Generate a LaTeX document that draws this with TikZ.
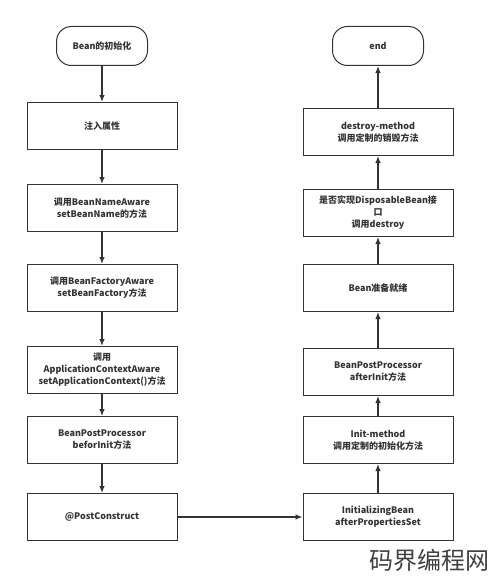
\documentclass[tikz,border=0pt]{standalone}
\usepackage{fontspec}
\setmainfont{Noto Sans CJK SC}
\usepackage{tikz}
\usetikzlibrary{arrows.meta}

\begin{document}
\begin{tikzpicture}[x=1pt,y=-1pt,
	box/.style={draw=black!80, line width=1pt, minimum width=150pt, minimum height=47pt, inner sep=0pt, align=center, font=\bfseries\fontsize{9}{12}\selectfont, text=black!80},
	terminal/.style={box, rounded corners=15pt, minimum width=91pt, minimum height=39pt},
	flow/.style={black!80, line width=1.2pt, -{Latex[length=7pt,width=5.5pt]}}]
	\useasboundingbox (0,0) rectangle (490,578);

	% left column
	\node[terminal] (start) at (102,46) {Bean的初始化};
	\node[box] (inject) at (102,126) {注入属性};
	\node[box] (nameaware) at (102,208) {调用BeanNameAware\\setBeanName的方法};
	\node[box] (factoryaware) at (102,288) {调用BeanFactoryAware\\setBeanFactory方法};
	\node[box] (ctxaware) at (102,370) {调用\\ApplicationContextAware\\setApplicationContext()方法};
	\node[box] (before) at (102,440) {BeanPostProcessor\\beforInit方法};
	\node[box] (postconstruct) at (102,517) {@PostConstruct};

	% right column
	\node[terminal] (end) at (378,46) {end};
	\node[box] (destroymethod) at (378,132) {destroy-method\\调用定制的销毁方法};
	\node[box] (disposable) at (378,213) {是否实现DisposableBean接\\口\\调用destroy};
	\node[box] (ready) at (378,288) {Bean准备就绪};
	\node[box] (after) at (378,372) {BeanPostProcessor\\afterInit方法};
	\node[box] (initmethod) at (378,440) {Init-method\\调用定制的初始化方法};
	\node[box] (initbean) at (378,517) {InitializingBean\\afterPropertiesSet};

	% watermark
	\node[anchor=south east, inner sep=0pt, text=black!75, font=\fontsize{24}{24}\selectfont] (mark) at (490,572) {码界编程网};

	% down the left
	\draw[flow] (start) -- (inject);
	\draw[flow] (inject) -- (nameaware);
	\draw[flow] (nameaware) -- (factoryaware);
	\draw[flow] (factoryaware) -- (ctxaware);
	\draw[flow] (ctxaware) -- (before);
	\draw[flow] (before) -- (postconstruct);
	% across
	\draw[flow] (postconstruct) -- (initbean);
	% up the right
	\draw[flow] (initbean) -- (initmethod);
	\draw[flow] (initmethod) -- (after);
	\draw[flow] (after) -- (ready);
	\draw[flow] (ready) -- (disposable);
	\draw[flow] (disposable) -- (destroymethod);
	\draw[flow] (destroymethod) -- (end);
\end{tikzpicture}
\end{document}
